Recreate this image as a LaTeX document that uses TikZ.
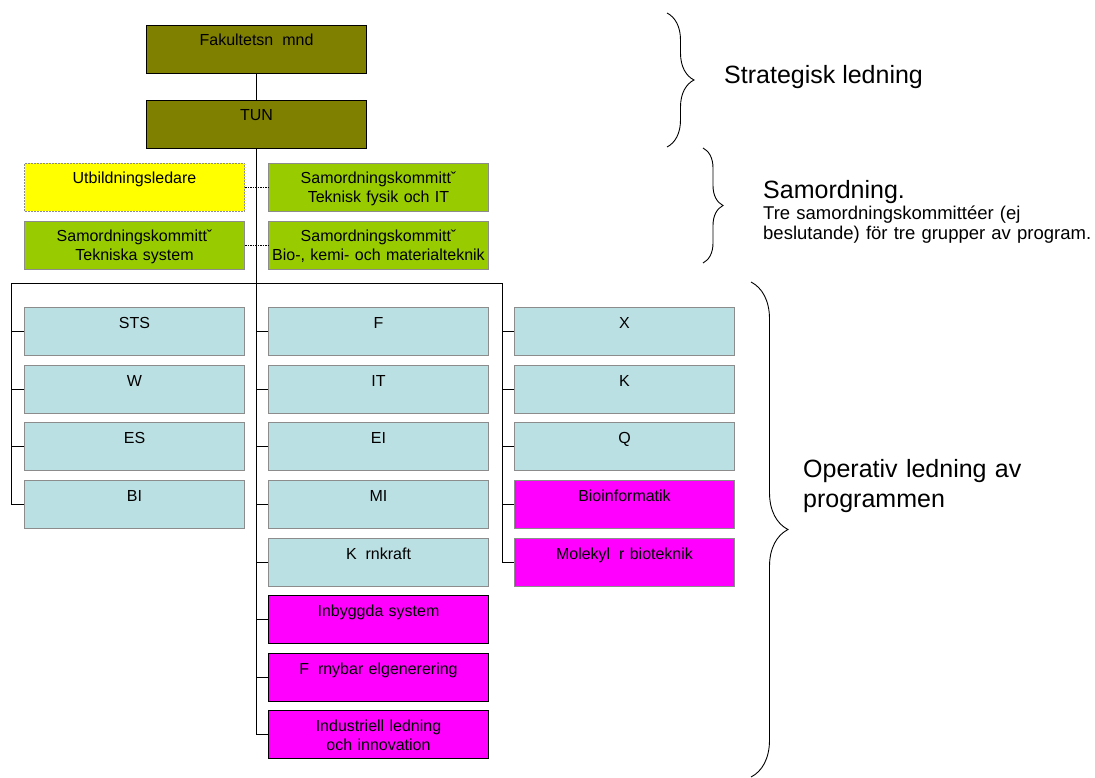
\documentclass[tikz,border=0pt]{standalone}
\usepackage{fontspec}
\setmainfont{Liberation Sans}
\usetikzlibrary{decorations.pathreplacing}

\definecolor{samgreen}{RGB}{153,204,0}
\definecolor{progblue}{RGB}{187,224,227}
\definecolor{boxgray}{RGB}{140,140,140}
\definecolor{tunolive}{RGB}{128,128,0}
\definecolor{nymagenta}{RGB}{255,0,255}
\definecolor{ledaryellow}{RGB}{255,255,0}

\tikzset{
    orgbox/.style={rectangle, anchor=north west, inner sep=0pt, text width=220pt,
        align=center, text height=20.5pt, text depth=27.5pt,
        font=\fontsize{16}{19}\selectfont, line width=1pt},
    olivebox/.style={orgbox, draw=black, fill=tunolive},
    ledarbox/.style={orgbox, draw=boxgray, dash pattern=on 2pt off 1pt, fill=ledaryellow},
    samordbox/.style={orgbox, draw=boxgray, fill=samgreen},
    progbox/.style={orgbox, draw=boxgray, fill=progblue},
    nyprogbox/.style={orgbox, draw=black, fill=nymagenta},
    nyprogboxb/.style={orgbox, draw=boxgray, fill=nymagenta},
    orgline/.style={line width=1pt},
    levelbrace/.style={line width=0.9pt, decorate},
    leveltext/.style={anchor=base west, inner sep=0pt, align=left}
}

\begin{document}
\begin{tikzpicture}[x=1pt, y=-1pt]
    \useasboundingbox (0,0) rectangle (1095,778);

    % Strategic level
    \node [olivebox] (fak) at (146,25) {Fakultetsn\phantom{ä}mnd};
    \node [olivebox] (tun) at (146,100) {TUN};

    % Coordination
    \node [ledarbox] (utb) at (24,163) {Utbildningsledare};
    \node [samordbox] (samtf) at (268,163) {Samordningskommittˇ\\Teknisk fysik och IT};
    \node [samordbox] (samts) at (24,221) {Samordningskommittˇ\\Tekniska system};
    \node [samordbox] (sambio) at (268,221) {Samordningskommittˇ\\Bio-, kemi- och materialteknik};

    % Programmes, left column
    \node [progbox] (sts) at (24,307) {STS};
    \node [progbox] (w) at (24,365) {W};
    \node [progbox] (es) at (24,422) {ES};
    \node [progbox] (bi) at (24,480) {BI};

    % Programmes, middle column
    \node [progbox] (f) at (268,307) {F};
    \node [progbox] (it) at (268,365) {IT};
    \node [progbox] (ei) at (268,422) {EI};
    \node [progbox] (mi) at (268,480) {MI};
    \node [progbox] (karn) at (268,538) {K\phantom{ä}rnkraft};
    \node [nyprogbox] (inb) at (268,595) {Inbyggda system};
    \node [nyprogbox] (forn) at (268,653) {F\phantom{ö}rnybar elgenerering};
    \node [nyprogbox] (ind) at (268,710) {Industriell ledning\\och innovation};

    % Programmes, right column
    \node [progbox] (xprog) at (514,307) {X};
    \node [progbox] (kprog) at (514,365) {K};
    \node [progbox] (qprog) at (514,422) {Q};
    \node [nyprogboxb] (binf) at (514,480) {Bioinformatik};
    \node [nyprogboxb] (mbio) at (514,538) {Molekyl\phantom{ä}r bioteknik};

    % Connectors
    \coordinate (busL) at (11,283);
    \coordinate (busR) at (502,283);
    \draw [orgline] (fak) -- (tun);
    \draw [orgline] (tun.south) |- (ind.west);
    \draw [orgline] (busL) -- (busR);
    \draw [orgline] (busL) |- (bi.west);
    \draw [orgline] (busR) |- (mbio.west);
    \draw [orgline, dash pattern=on 1.5pt off 1pt] (utb.east) -- (samtf.west);
    \draw [orgline, dash pattern=on 1.5pt off 1pt] (samts.east) -- (sambio.west);
    \draw [orgline] (sts.west) -- (sts.west -| busL);
    \draw [orgline] (w.west) -- (w.west -| busL);
    \draw [orgline] (es.west) -- (es.west -| busL);
    \draw [orgline] (f.west) -- (f.west -| tun.south);
    \draw [orgline] (it.west) -- (it.west -| tun.south);
    \draw [orgline] (ei.west) -- (ei.west -| tun.south);
    \draw [orgline] (mi.west) -- (mi.west -| tun.south);
    \draw [orgline] (karn.west) -- (karn.west -| tun.south);
    \draw [orgline] (inb.west) -- (inb.west -| tun.south);
    \draw [orgline] (forn.west) -- (forn.west -| tun.south);
    \draw [orgline] (xprog.west) -- (xprog.west -| busR);
    \draw [orgline] (kprog.west) -- (kprog.west -| busR);
    \draw [orgline] (qprog.west) -- (qprog.west -| busR);
    \draw [orgline] (binf.west) -- (binf.west -| busR);

    % Braces and levels
    \coordinate (stratA) at (667,13);
    \coordinate (stratB) at (667,147);
    \coordinate (samA) at (703,148);
    \coordinate (samB) at (703,263);
    \coordinate (operA) at (751,282);
    \coordinate (operB) at (751,777);
    \draw [levelbrace, decoration={brace, amplitude=27pt}] (stratA) -- (stratB);
    \draw [levelbrace, decoration={brace, amplitude=20pt}] (samA) -- (samB);
    \draw [levelbrace, decoration={brace, amplitude=37pt}] (operA) -- (operB);

    \node [leveltext, font=\fontsize{25}{30}\selectfont] (strat) at (724,84) {Strategisk ledning};
    \node [leveltext, font=\fontsize{25}{30}\selectfont] (samtitle) at (763,199) {Samordning.};
    \node [leveltext, text width=340pt, font=\fontsize{18.5}{20}\selectfont] (samdesc) at (763,220)
        {Tre samordningskommittéer (ej\\beslutande) för tre grupper av program.};
    \node [leveltext, text width=280pt, font=\fontsize{25}{30}\selectfont] (oper) at (803,477)
        {Operativ ledning av\\programmen};
\end{tikzpicture}
\end{document}
